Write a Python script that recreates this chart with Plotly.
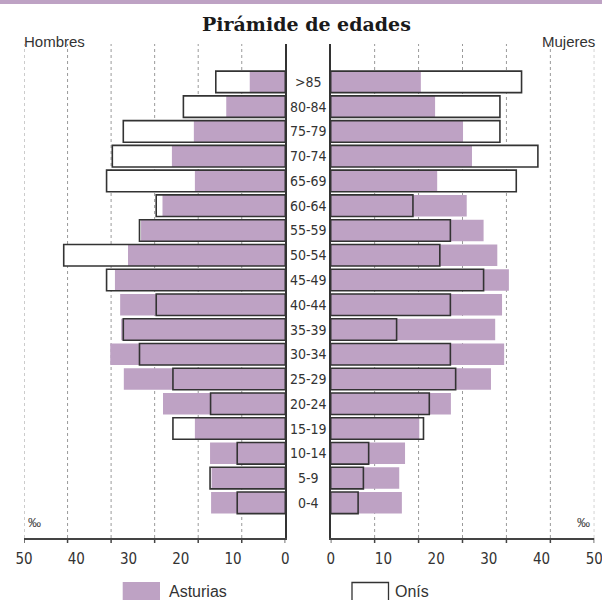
import plotly.graph_objects as go

# Age groups, top to bottom
ages = [">85", "80-84", "75-79", "70-74", "65-69", "60-64", "55-59", "50-54", "45-49",
        "40-44", "35-39", "30-34", "25-29", "20-24", "15-19", "10-14", "5-9", "0-4"]

# Population per thousand (‰)
hombres_asturias = [6.8, 11.3, 17.5, 21.7, 17.3, 23.5, 27.6, 30.1, 32.6,
                    31.6, 31.4, 33.5, 30.9, 23.4, 17.3, 14.4, 14.1, 14.2]
hombres_onis = [13.3, 19.5, 31.0, 33.1, 34.2, 24.7, 27.9, 42.4, 34.2,
                24.7, 31.0, 27.9, 21.5, 14.3, 21.5, 9.2, 14.4, 9.2]
mujeres_asturias = [17.1, 19.8, 25.1, 26.8, 20.2, 25.8, 29.0, 31.6, 33.8,
                    32.5, 31.2, 32.9, 30.4, 22.8, 16.8, 14.1, 13.0, 13.5]
mujeres_onis = [36.2, 32.1, 32.1, 39.3, 35.2, 15.6, 22.7, 20.7, 29.0,
                22.7, 12.5, 22.7, 23.7, 18.7, 17.6, 7.2, 6.2, 5.2]

tick_values = [0, 10, 20, 30, 40, 50]
tick_labels = ["0", "10", "20", "30", "40", "50"]

X_MAX = 50
GRID_STEP = X_MAX / 6

PURPLE = "#bea2c4"
OUTLINE = "#333333"
TEXT = "#333333"
NARROW = "Liberation Sans Narrow, DejaVu Sans Condensed, Roboto Condensed, Arial Narrow, sans-serif"
SANS = "Liberation Sans, Arial, Roboto, sans-serif"
BAR_W = 0.87

W, H = 602, 600
TOP, BOTTOM = 44, 538
PH = BOTTOM - TOP


def py(y_px):
    """Pixel row -> paper y."""
    return (BOTTOM - y_px) / PH


def px(x_px):
    return x_px / W


fig = go.Figure()

for xs_ast, xs_onis, xa, ya in [(hombres_asturias, hombres_onis, "x", "y"),
                                (mujeres_asturias, mujeres_onis, "x2", "y2")]:
    # Onís fill underneath, Asturias bars, then the Onís outline on top
    fig.add_trace(go.Bar(y=ages, x=xs_onis, orientation="h", width=BAR_W,
                         marker=dict(color="white", line=dict(width=0)),
                         xaxis=xa, yaxis=ya, hoverinfo="skip", showlegend=False))
    fig.add_trace(go.Bar(y=ages, x=xs_ast, orientation="h", width=BAR_W, name="Asturias",
                         marker=dict(color=PURPLE, line=dict(width=0)),
                         xaxis=xa, yaxis=ya, showlegend=False))
    fig.add_trace(go.Bar(y=ages, x=xs_onis, orientation="h", width=BAR_W, name="Onís",
                         marker=dict(color="rgba(0,0,0,0)", line=dict(color=OUTLINE, width=1.6)),
                         xaxis=xa, yaxis=ya, showlegend=False))

xaxis_common = dict(
    tickmode="array", tickvals=tick_values, ticktext=tick_labels,
    ticks="", showgrid=False, zeroline=False, automargin=False,
    showline=True, linecolor="#444444", linewidth=1.5,
    tickfont=dict(family=NARROW, size=15, color=TEXT),
    ticklabelstandoff=6, ticklabeloverflow="allow", fixedrange=True,
)
yaxis_common = dict(
    type="category", categoryorder="array", categoryarray=ages[::-1],
    range=[-1.42, 18.53], showticklabels=False, ticks="", showgrid=False,
    zeroline=False, showline=True, linecolor=OUTLINE, linewidth=1.5, automargin=False,
)

fig.update_layout(
    width=W, height=H,
    margin=dict(l=0, r=0, t=TOP, b=H - BOTTOM, pad=0, autoexpand=False),
    paper_bgcolor="white", plot_bgcolor="white",
    barmode="overlay",
    xaxis=dict(domain=[px(24), px(285.3)], range=[X_MAX, 0], anchor="y", **xaxis_common),
    xaxis2=dict(domain=[px(330.7), px(594.3)], range=[0, X_MAX], anchor="y2", **xaxis_common),
    yaxis=dict(anchor="x", side="right", **yaxis_common),
    yaxis2=dict(anchor="x2", side="left", matches="y", **yaxis_common),
)

shapes = []
# Top colour band
shapes.append(dict(type="rect", xref="paper", yref="paper", x0=0, x1=1,
                   y0=py(4), y1=py(0), fillcolor=PURPLE, line=dict(width=0), layer="above"))
# Dashed guide lines and bottom tick marks for both panels
for xr in ["x", "x2"]:
    for k in range(7):
        v = k * GRID_STEP
        if k > 0:
            shapes.append(dict(type="line", xref=xr, yref="paper", x0=v, x1=v, y0=0, y1=1,
                               line=dict(color="#9a9a9a", width=1, dash="3px,3px"), layer="below"))
        shapes.append(dict(type="line", xref=xr, yref="paper", x0=v, x1=v, y0=0, y1=py(BOTTOM + 5),
                           line=dict(color="#444444", width=1.5)))
# Legend swatches
shapes.append(dict(type="rect", xref="paper", yref="paper", x0=px(122.7), x1=px(160),
                   y0=py(603), y1=py(582), fillcolor=PURPLE, line=dict(width=0)))
shapes.append(dict(type="rect", xref="paper", yref="paper", x0=px(352), x1=px(388.5),
                   y0=py(603), y1=py(582.5), fillcolor="white", line=dict(color=OUTLINE, width=1.3)))
fig.update_layout(shapes=shapes)

ann = []
ann.append(dict(text="<b>Pirámide de edades</b>", x=px(306), y=py(24), xref="paper", yref="paper",
                showarrow=False, xanchor="center", yanchor="middle",
                font=dict(family="DejaVu Serif, Liberation Serif, serif", size=19, color="#1a1a1a")))
ann.append(dict(text="Hombres", x=px(22), y=py(41), xref="paper", yref="paper", showarrow=False,
                xanchor="left", yanchor="middle", font=dict(family=SANS, size=15, color=TEXT)))
ann.append(dict(text="Mujeres", x=px(597), y=py(41), xref="paper", yref="paper", showarrow=False,
                xanchor="right", yanchor="middle", font=dict(family=SANS, size=15, color=TEXT)))
for xp in (34, 583):
    ann.append(dict(text="‰", x=px(xp), y=py(522), xref="paper", yref="paper", showarrow=False,
                    xanchor="center", yanchor="middle",
                    font=dict(family="Liberation Sans, DejaVu Sans", size=13, color="#444444")))
# Age group labels between the two panels
for a in ages:
    ann.append(dict(text=a, x=px(308), y=a, xref="paper", yref="y", showarrow=False,
                    xanchor="center", yanchor="middle", font=dict(family=NARROW, size=14, color=TEXT)))
ann.append(dict(text="Asturias", x=px(166.5), y=py(591), xref="paper", yref="paper", showarrow=False,
                xanchor="left", yanchor="middle", font=dict(family=SANS, size=16, color=TEXT)))
ann.append(dict(text="Onís", x=px(393), y=py(591), xref="paper", yref="paper", showarrow=False,
                xanchor="left", yanchor="middle", font=dict(family=SANS, size=16, color=TEXT)))
fig.update_layout(annotations=ann)

fig.write_html("out.html")
